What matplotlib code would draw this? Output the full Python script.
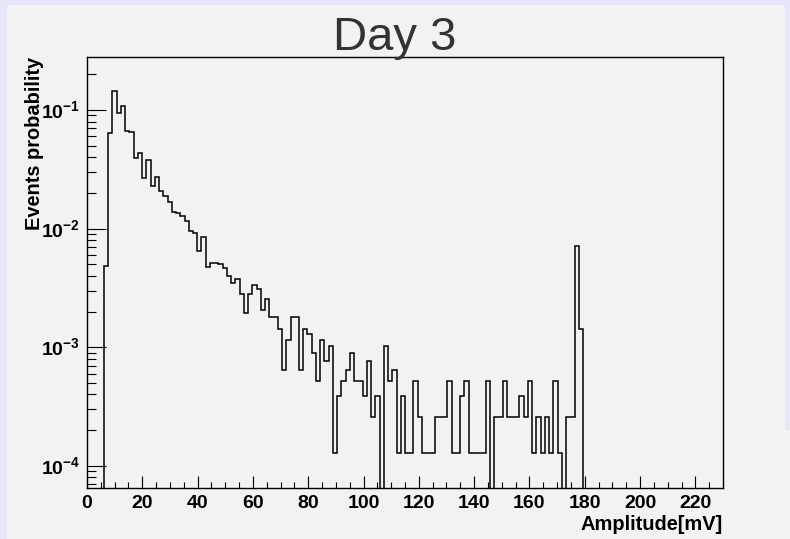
import numpy as np
import matplotlib
matplotlib.use("Agg")
import matplotlib.pyplot as plt
from matplotlib.patches import Rectangle
from matplotlib.ticker import LogLocator, MultipleLocator, FixedLocator, FixedFormatter, NullFormatter

plt.rcParams['font.family'] = ['Liberation Sans', 'DejaVu Sans']
plt.rcParams['mathtext.fontset'] = 'custom'
plt.rcParams['mathtext.rm'] = 'Liberation Sans:bold'
plt.rcParams['mathtext.bf'] = 'Liberation Sans:bold'

# histogram binning: 150 bins over 0-230 mV
N_BINS = 150
X_MIN, X_MAX = 0.0, 230.0
FIRST_FILLED_BIN = 4
N_EVENTS = 7780

# event counts per bin, starting at FIRST_FILLED_BIN
counts = [
    38, 501, 1116, 729, 840, 515, 506, 306, 336, 209,
    296, 178, 214, 161, 146, 131, 108, 105, 100, 90,
    74, 72, 50, 66, 37, 40, 40, 39, 36, 31,
    27, 29, 22, 15, 22, 26, 24, 16, 20, 14,
    14, 11, 5, 9, 14, 14, 5, 11, 10, 7,
    4, 9, 6, 8, 1, 3, 4, 5, 7, 4,
    4, 3, 6, 2, 3, 0, 8, 4, 5, 1,
    3, 1, 1, 4, 2, 1, 1, 1, 2, 2,
    2, 4, 1, 1, 3, 4, 1, 1, 1, 1,
    4, 0, 2, 2, 4, 2, 2, 2, 3, 2,
    4, 1, 2, 1, 2, 1, 4, 1, 0, 2,
    2, 55, 11,
]

y_ticks = [1e-4, 1e-3, 1e-2, 1e-1]
y_tick_labels = [r'$10^{-4}$', r'$10^{-3}$', r'$10^{-2}$', r'$10^{-1}$']

edges = np.linspace(X_MIN, X_MAX, N_BINS + 1)
full = np.zeros(N_BINS)
full[FIRST_FILLED_BIN:FIRST_FILLED_BIN + len(counts)] = counts
prob = full / N_EVENTS
# empty bins drop off the bottom of the log axis
prob_draw = np.where(prob > 0, prob, 1e-12)

W, H = 790, 539
fig = plt.figure(figsize=(W / 100, H / 100), dpi=100)
fig.patch.set_facecolor('#e6e6fa')
fig.patches.append(Rectangle((7 / W, 0), 1 - 12 / W, 1 - 5 / H, transform=fig.transFigure,
                             facecolor='#f2f2f2', edgecolor='none', zorder=0))
fig.patches.append(Rectangle((1 - 12 / W, 0), 12 / W, 1 - 430 / H, transform=fig.transFigure,
                             facecolor='#f2f2f2', edgecolor='none', zorder=0))

ax = fig.add_axes([87 / W, 1 - 488 / H, (723 - 87) / W, (488 - 57) / H])
ax.set_zorder(2)
ax.set_facecolor('#f2f2f2')
ax.stairs(prob_draw, edges, baseline=None, color='black', linewidth=1.1)

ax.set_yscale('log')
ax.set_xlim(X_MIN, X_MAX)
ax.set_ylim(6.5e-5, 0.28)

for s in ax.spines.values():
    s.set_color('black')
    s.set_linewidth(1.0)

ax.xaxis.set_major_locator(MultipleLocator(20))
ax.xaxis.set_minor_locator(MultipleLocator(5))
ax.yaxis.set_major_locator(FixedLocator(y_ticks))
ax.yaxis.set_major_formatter(FixedFormatter(y_tick_labels))
ax.yaxis.set_minor_locator(LogLocator(base=10, subs=np.arange(2, 10)))
ax.yaxis.set_minor_formatter(NullFormatter())

ax.tick_params(axis='x', which='major', direction='in', length=8.6, width=0.8,
               labelsize=14, pad=5, top=False)
ax.tick_params(axis='x', which='minor', direction='in', length=4.3, width=0.8, top=False)
ax.tick_params(axis='y', which='major', direction='in', length=13.7, width=0.8,
               labelsize=14, pad=5, right=False)
ax.tick_params(axis='y', which='minor', direction='in', length=6.7, width=0.8, right=False)
for lab in ax.get_xticklabels():
    lab.set_fontweight('bold')

fig.text(395 / W, 1 - 50 / H, 'Day 3', ha='center', va='baseline',
         fontsize=34, color='#333333')
fig.text(723 / W, 1 - 530 / H, 'Amplitude[mV]', ha='right', va='baseline',
         fontsize=14.4, fontweight='bold')
fig.text(35 / W, 1 - 57 / H, 'Events probability', ha='center', va='top',
         rotation=90, fontsize=14.4, fontweight='bold')

fig.savefig('out.png', dpi=100, facecolor=fig.get_facecolor())
